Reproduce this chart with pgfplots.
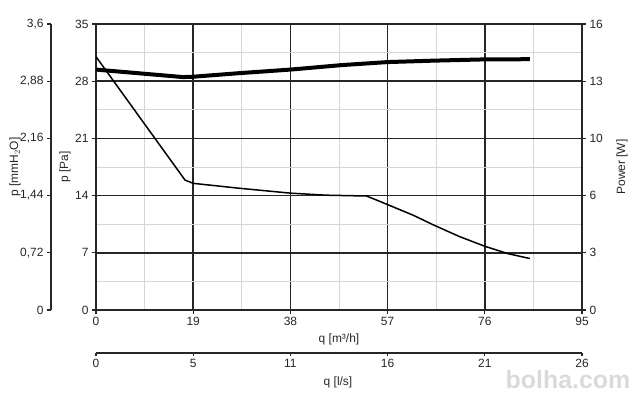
\documentclass[border=0pt]{standalone}
\usepackage{fontspec}
\setmainfont{Liberation Sans}
\usepackage{pgfplots}
\pgfplotsset{compat=1.18}
\definecolor{ax}{HTML}{262626}
\definecolor{mgrid}{HTML}{D6D6D6}
\definecolor{wm}{HTML}{DADADA}
\begin{document}
\begin{tikzpicture}[x=1bp,y=1bp]
\useasboundingbox (0,0) rectangle (640,400);
\node[wm, font=\bfseries\fontsize{25}{28}\selectfont] at (568,20) {bolha.com};
\pgfplotsset{every axis/.append style={scale only axis,
  font=\fontsize{12}{14}\selectfont,
  /pgf/number format/assume math mode=true,
  tick style={ax, line width=1.2bp},
  tick align=outside, major tick length=4bp,
  axis line style={ax, line width=2bp},
  every tick label/.append style={text=ax}}}
% outer left axis mmH2O
\begin{axis}[at={(51bp,90bp)}, anchor=south west, width=1bp, height=286bp,
  xmin=0, xmax=1, ymin=0, ymax=3.6,
  hide x axis, axis y line*=left,
  ytick={0,0.72,1.44,2.16,2.88,3.6},
  yticklabels={0,{0,72},{1,44},{2,16},{2,88},{3,6}}]
\end{axis}
% main axis
\begin{axis}[at={(96bp,90bp)}, anchor=south west, width=486bp, height=286bp,
  xmin=0, xmax=95, ymin=0, ymax=35,
  xtick={0,19,38,57,76,95}, ytick={0,7,14,21,28,35},
  xticklabels={0,19,38,57,76,95}, yticklabels={0,7,14,21,28,35},
  minor xtick={9.5,28.5,47.5,66.5,85.5}, minor ytick={3.5,10.5,17.5,24.5,31.5},
  minor tick length=0pt,
  grid=both, major grid style={ax, line width=1.5bp}, minor grid style={mgrid, line width=1bp},
  xtick pos=bottom, ytick pos=left]
\addplot[black, line width=1.5bp] coordinates {
(0,31.0) (17.4,15.9) (19,15.5) (28,14.9) (38,14.3) (45,14.05) (52.9,13.95)
(57,12.9) (62,11.6) (66,10.4) (71,9.0) (76,7.8) (80.5,6.9) (84.8,6.3)};
\end{axis}
% power axis
\begin{axis}[at={(96bp,90bp)}, anchor=south west, width=486bp, height=286bp,
  xmin=0, xmax=95, ymin=0, ymax=16,
  hide x axis, axis y line*=right,
  ytick={0,3.2,6.4,9.6,12.8,16}, yticklabels={0,3,6,10,13,16}]
\addplot[black, line width=4bp] coordinates {
(0,13.45) (17,13.03) (19,13.05) (28,13.25) (38,13.45) (48,13.7) (57,13.87)
(66,13.95) (76,14.02) (84.8,14.03)};
\end{axis}
% second x axis l/s
\begin{axis}[at={(96bp,47bp)}, anchor=south west, width=486bp, height=1bp,
  xmin=0, xmax=95, ymin=0, ymax=1,
  hide y axis, axis x line*=bottom, major tick length=3bp,
  xtick={0,19,38,57,76,95}, xticklabels={0,5,11,16,21,26}]
\end{axis}
\begin{scope}[font=\fontsize{12}{14}\selectfont, text=ax]
\node[rotate=90] at (15,233) {p [mmH$_2$O]};
\node[rotate=90] at (65,233) {p [Pa]};
\node[rotate=90] at (622,233) {Power [W]};
\node at (339,61) {q [m³/h]};
\node at (338,18) {q [l/s]};
\end{scope}
\end{tikzpicture}
\end{document}
